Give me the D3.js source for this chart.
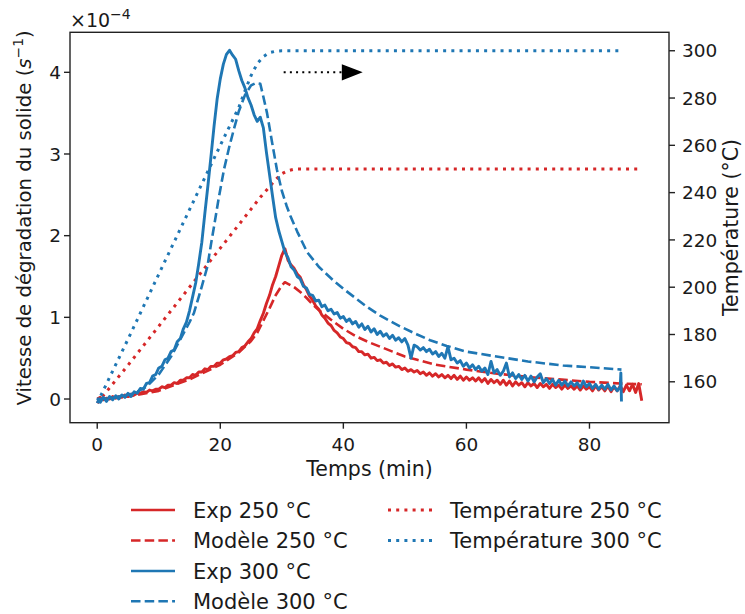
<!DOCTYPE html>
<html>
<head>
<meta charset="utf-8">
<script src="https://cdn.jsdelivr.net/npm/d3@7"></script>
<style>
  html, body { margin: 0; padding: 0; background: #fff; }
  svg text { font-family: "DejaVu Sans", sans-serif; fill: #1a1a1a; }
</style>
</head>
<body>
<svg id="chart" width="745" height="614"></svg>
<script>
// ---------------- DATA (rates in units of 1e-4 s^-1, time in min, T in °C) ----------------
const exp250Time = [0,0.5,1,1.5,2,2.5,3,3.5,4,4.5,5,5.5,6,6.5,7,7.5,8,8.5,9,9.5,10,10.5,11,11.5,12,12.5,13,13.5,14,14.5,15,15.5,16,16.5,17,17.5,18,18.5,19,19.5,20,20.5,21,21.5,22,22.5,23,23.5,24,24.5,25,25.5,26,26.5,27,27.5,28,28.5,29,29.5,30,30.5,31,31.5,32,32.5,33,33.5,34,34.5,35,35.5,36,36.5,37,37.5,38,38.5,39,39.5,40,40.5,41,41.5,42,42.5,43,43.5,44,44.5,45,45.5,46,46.5,47,47.5,48,48.5,49,49.5,50,50.5,51,51.5,52,52.5,53,53.5,54,54.5,55,55.5,56,56.5,57,57.5,58,58.5,59,59.5,60,60.5,61,61.5,62,62.5,63,63.5,64,64.5,65,65.5,66,66.5,67,67.5,68,68.5,69,69.5,70,70.5,71,71.5,72,72.5,73,73.5,74,74.5,75,75.5,76,76.5,77,77.5,78,78.5,79,79.5,80,80.5,81,81.5,82,82.5,83,83.5,84,84.5,85,85.5,86,86.5,87,87.5,88,88.5];
const exp250Rate = [0.00,0.02,-0.01,0.01,0.00,0.03,0.01,0.03,0.02,0.05,0.03,0.06,0.05,0.07,0.07,0.09,0.08,0.11,0.10,0.12,0.12,0.15,0.14,0.17,0.17,0.20,0.19,0.23,0.23,0.26,0.26,0.30,0.29,0.33,0.33,0.37,0.36,0.40,0.40,0.44,0.44,0.48,0.49,0.52,0.53,0.57,0.58,0.63,0.65,0.70,0.74,0.81,0.86,0.96,1.05,1.17,1.27,1.40,1.50,1.63,1.76,1.84,1.70,1.64,1.60,1.53,1.49,1.40,1.34,1.26,1.21,1.14,1.10,1.03,0.99,0.93,0.90,0.84,0.81,0.76,0.74,0.69,0.68,0.64,0.63,0.58,0.58,0.54,0.55,0.50,0.51,0.47,0.48,0.44,0.45,0.41,0.43,0.39,0.40,0.36,0.38,0.34,0.36,0.33,0.35,0.31,0.33,0.29,0.32,0.28,0.31,0.27,0.30,0.26,0.29,0.25,0.29,0.24,0.28,0.23,0.27,0.23,0.26,0.22,0.26,0.21,0.25,0.19,0.24,0.20,0.23,0.18,0.23,0.17,0.22,0.16,0.21,0.17,0.20,0.15,0.20,0.16,0.19,0.14,0.19,0.15,0.18,0.13,0.18,0.14,0.17,0.12,0.17,0.13,0.16,0.12,0.16,0.11,0.16,0.12,0.15,0.10,0.16,0.11,0.15,0.10,0.16,0.09,0.15,0.10,0.16,0.09,0.17,0.10,0.18,0.08,0.19,-0.02];

const exp300Time = [0,0.5,1,1.5,2,2.5,3,3.5,4,4.5,5,5.5,6,6.5,7,7.5,8,8.5,9,9.5,10,10.5,11,11.5,12,12.5,13,13.5,14,14.5,15,15.5,16,16.5,17,17.5,18,18.5,19,19.5,20,20.5,21,21.5,22,22.5,23,23.5,24,24.5,25,25.5,26,26.5,27,27.5,28,28.5,29,29.5,30,30.5,31,31.5,32,32.5,33,33.5,34,34.5,35,35.5,36,36.5,37,37.5,38,38.5,39,39.5,40,40.5,41,41.5,42,42.5,43,43.5,44,44.5,45,45.5,46,46.5,47,47.5,48,48.5,49,49.5,50,50.5,51,51.5,52,52.5,53,53.5,54,54.5,55,55.5,56,56.5,57,57.5,58,58.5,59,59.5,60,60.5,61,61.5,62,62.5,63,63.5,64,64.5,65,65.5,66,66.5,67,67.5,68,68.5,69,69.5,70,70.5,71,71.5,72,72.5,73,73.5,74,74.5,75,75.5,76,76.5,77,77.5,78,78.5,79,79.5,80,80.5,81,81.5,82,82.5,83,83.5,84,84.5,85,85.1,85.2];
const exp300Rate = [0.01,-0.04,0.02,-0.03,0.03,-0.01,0.04,0.00,0.05,0.02,0.07,0.03,0.09,0.07,0.13,0.12,0.19,0.20,0.28,0.30,0.38,0.40,0.48,0.50,0.58,0.60,0.70,0.74,0.86,0.94,1.08,1.25,1.42,1.66,1.92,2.28,2.62,2.98,3.35,3.68,3.92,4.10,4.22,4.27,4.21,4.16,4.02,3.90,3.81,3.69,3.60,3.48,3.40,3.45,3.32,3.02,2.75,2.48,2.22,2.06,1.93,1.80,1.73,1.62,1.58,1.50,1.47,1.38,1.36,1.28,1.27,1.20,1.21,1.13,1.15,1.08,1.10,1.04,1.06,0.99,1.01,0.95,0.98,0.92,0.95,0.88,0.92,0.85,0.89,0.82,0.86,0.79,0.83,0.77,0.80,0.74,0.78,0.72,0.75,0.70,0.74,0.66,0.50,0.66,0.64,0.60,0.63,0.58,0.61,0.55,0.58,0.52,0.56,0.50,0.64,0.48,0.50,0.44,0.47,0.40,0.44,0.38,0.42,0.36,0.40,0.34,0.38,0.30,0.46,0.32,0.36,0.29,0.34,0.44,0.27,0.32,0.25,0.30,0.24,0.29,0.22,0.28,0.21,0.27,0.31,0.20,0.25,0.19,0.24,0.17,0.23,0.17,0.22,0.16,0.21,0.16,0.20,0.14,0.22,0.15,0.19,0.13,0.18,0.12,0.17,0.12,0.18,0.11,0.16,0.10,0.15,0.32,-0.03];

const model250Time = [0,5,10,15,20,23,25,26,27,28,29,30,30.5,31,32,33,34,35,36,37,38,40,42,44,46,48,50,52,55,60,65,70,75,80,85,88.5];
const model250Rate = [0.00,0.03,0.10,0.24,0.42,0.57,0.71,0.81,0.96,1.11,1.27,1.39,1.43,1.41,1.37,1.31,1.24,1.16,1.09,1.03,0.97,0.86,0.77,0.70,0.64,0.58,0.52,0.48,0.42,0.36,0.31,0.27,0.24,0.21,0.19,0.18];

const model300Time = [0,3,6,8,10,12,13.5,15,15.7,16.5,17,17.9,18.5,19,19.7,20.6,21.5,22.2,23,24,25,25.8,26.5,27,27.6,28.4,29.2,30,30.8,31.4,32.5,34.1,36,38.4,40,43.8,46,49.2,52,54.1,56.8,60,64.9,70,75.7,80,85.2];
const model300Rate = [0.00,0.02,0.07,0.15,0.30,0.52,0.73,0.94,1.05,1.25,1.38,1.62,1.90,2.12,2.44,2.81,3.10,3.30,3.52,3.72,3.84,3.87,3.86,3.70,3.50,3.15,2.81,2.55,2.36,2.24,2.05,1.80,1.62,1.45,1.35,1.13,1.02,0.89,0.79,0.72,0.65,0.58,0.52,0.46,0.41,0.39,0.36];

const temp250Time = [0,5,10,15,20,25,26.5,28,29,30,31,32,33,88.5];
const temp250Value = [151,167,183.5,200,216.5,233,238,242.5,245.5,248,249.3,249.9,250,250];

const temp300Time = [0,5,10,15,20,23,24,25,26,27,28,29,30,85];
const temp300Value = [151,178,205.5,232.8,260,276,283,289.5,294.5,297.5,299.2,299.8,300,300];

const xTicks = [0, 20, 40, 60, 80];
const yTicks = [0, 1, 2, 3, 4];
const tTicks = [160, 180, 200, 220, 240, 260, 280, 300];

const arrowFrom = [30.3, 4.0];
const arrowTo = [42.8, 4.0];

const legendLabels = ["Exp 250 °C", "Modèle 250 °C", "Exp 300 °C", "Modèle 300 °C", "Température 250 °C", "Température 300 °C"];

// ---------------- DRAWING ----------------
const RED = "#d62728", BLUE = "#1f77b4";
const svg = d3.select("#chart");
const L = 70, R = 669, T = 32.3, B = 422.7;

const x = d3.scaleLinear().domain([-4.425, 92.925]).range([L, R]);
const y = d3.scaleLinear().domain([-0.29, 4.49]).range([B, T]);
const yT = d3.scaleLinear().domain([142.7, 307.8]).range([B, T]);

svg.append("clipPath").attr("id", "clip")
  .append("rect").attr("x", L).attr("y", T).attr("width", R - L).attr("height", B - T);

const plot = svg.append("g").attr("clip-path", "url(#clip)");

function addLine(times, vals, scaleY, color, dash, width) {
  const pts = times.map((t, i) => [t, vals[i]]);
  const line = d3.line().x(d => x(d[0])).y(d => scaleY(d[1]));
  plot.append("path")
    .attr("d", line(pts))
    .attr("fill", "none")
    .attr("stroke", color)
    .attr("stroke-width", width)
    .attr("stroke-linejoin", "round")
    .attr("stroke-dasharray", dash);
}

const DOT = "3 5.2", DASH = "9.5 4.2";
addLine(temp250Time, temp250Value, yT, RED, DOT, 3);
addLine(temp300Time, temp300Value, yT, BLUE, DOT, 3);
addLine(exp250Time, exp250Rate, y, RED, null, 2.9);
addLine(model250Time, model250Rate, y, RED, DASH, 2.6);
addLine(exp300Time, exp300Rate, y, BLUE, null, 2.9);
addLine(model300Time, model300Rate, y, BLUE, DASH, 2.6);

// arrow annotation
const ax0 = x(arrowFrom[0]), ay = y(arrowFrom[1]), ax1 = x(arrowTo[0]);
const headLen = 18, headHalf = 7;
svg.append("line")
  .attr("x1", ax0).attr("y1", ay).attr("x2", ax1 - headLen).attr("y2", ay)
  .attr("stroke", "#000").attr("stroke-width", 2).attr("stroke-dasharray", "2 4.2");
svg.append("path")
  .attr("d", `M${ax1},${ay} L${ax1 - headLen},${ay - headHalf} L${ax1 - headLen},${ay + headHalf} Z`)
  .attr("fill", "#000").attr("stroke", "#000").attr("stroke-width", 1.5).attr("stroke-linejoin", "miter");

// spines
svg.append("rect").attr("x", L).attr("y", T).attr("width", R - L).attr("height", B - T)
  .attr("fill", "none").attr("stroke", "#222").attr("stroke-width", 1.4);

const TICK_FS = 18.5, LABEL_FS = 20.5, LEG_FS = 21;

// x axis
xTicks.forEach(v => {
  svg.append("line").attr("x1", x(v)).attr("x2", x(v)).attr("y1", B).attr("y2", B + 6)
    .attr("stroke", "#222").attr("stroke-width", 1.4);
  svg.append("text").attr("x", x(v)).attr("y", B + 28.5).attr("text-anchor", "middle")
    .attr("font-size", TICK_FS).text(v);
});
// left axis
yTicks.forEach(v => {
  svg.append("line").attr("x1", L - 6).attr("x2", L).attr("y1", y(v)).attr("y2", y(v))
    .attr("stroke", "#222").attr("stroke-width", 1.4);
  svg.append("text").attr("x", L - 9).attr("y", y(v)).attr("dy", "0.36em").attr("text-anchor", "end")
    .attr("font-size", TICK_FS).text(v);
});
// right axis
tTicks.forEach(v => {
  svg.append("line").attr("x1", R).attr("x2", R + 6).attr("y1", yT(v)).attr("y2", yT(v))
    .attr("stroke", "#222").attr("stroke-width", 1.4);
  svg.append("text").attr("x", R + 13).attr("y", yT(v)).attr("dy", "0.36em").attr("text-anchor", "start")
    .attr("font-size", TICK_FS).text(v);
});

// exponent label
const ex = svg.append("text").attr("x", 70).attr("y", 26.5).attr("font-size", 19);
ex.append("tspan").text("×10");
ex.append("tspan").attr("dy", -8).attr("font-size", 14).text("−4");

// axis labels
svg.append("text").attr("x", (L + R) / 2).attr("y", 476).attr("text-anchor", "middle")
  .attr("font-size", LABEL_FS).text("Temps (min)");

const YL_FS = 19.7;
const yl = svg.append("text")
  .attr("transform", `translate(30.5,218) rotate(-90)`)
  .attr("text-anchor", "middle").attr("font-size", YL_FS);
yl.append("tspan").text("Vitesse de dégradation du solide (");
yl.append("tspan").attr("font-style", "italic").text("s");
yl.append("tspan").attr("dy", -8).attr("font-size", YL_FS * 0.7).text("−1");
yl.append("tspan").attr("dy", 8).text(")");

svg.append("text")
  .attr("transform", `translate(738,${(T + B) / 2}) rotate(-90)`)
  .attr("text-anchor", "middle").attr("font-size", LABEL_FS).text("Température (°C)");

// legend
const legStyles = [
  {c: RED, d: null, w: 2.6}, {c: RED, d: DASH, w: 2.6}, {c: BLUE, d: null, w: 2.6}, {c: BLUE, d: DASH, w: 2.6},
  {c: RED, d: DOT, w: 3}, {c: BLUE, d: DOT, w: 3}
];
const rowY = [510, 540.5, 571, 601.3];
legendLabels.forEach((lab, i) => {
  const col = i < 4 ? 0 : 1;
  const row = i < 4 ? i : i - 4;
  const hx0 = col === 0 ? 131 : 388;
  const tx = col === 0 ? 193 : 450;
  const yy = rowY[row];
  svg.append("line").attr("x1", hx0).attr("x2", hx0 + 44).attr("y1", yy).attr("y2", yy)
    .attr("stroke", legStyles[i].c).attr("stroke-width", legStyles[i].w)
    .attr("stroke-dasharray", legStyles[i].d);
  svg.append("text").attr("x", tx).attr("y", yy).attr("dy", "0.36em")
    .attr("font-size", LEG_FS).text(lab);
});
</script>
</body>
</html>
